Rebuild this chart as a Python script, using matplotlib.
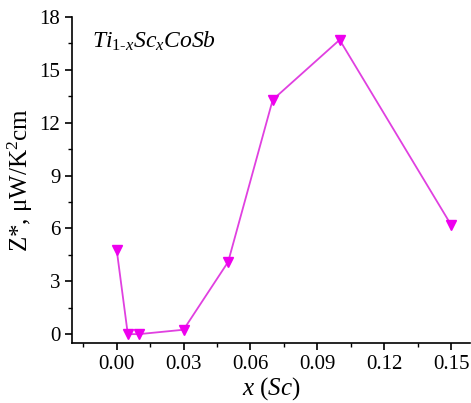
import matplotlib
matplotlib.use('Agg')
import matplotlib.pyplot as plt
from matplotlib.ticker import MultipleLocator

# Data
x_sc = [0.0, 0.005, 0.01, 0.03, 0.05, 0.07, 0.10, 0.15]
z_star = [4.8, 0.0, 0.0, 0.25, 4.1, 13.3, 16.7, 6.2]

plt.rcParams['font.family'] = 'Liberation Serif'
plt.rcParams['mathtext.fontset'] = 'custom'
plt.rcParams['mathtext.rm'] = 'Liberation Serif'
plt.rcParams['mathtext.it'] = 'Liberation Serif:italic'

fig = plt.figure(figsize=(4.71, 4.03), dpi=100)
ax = fig.add_axes([0.153, 0.149, 0.845, 0.809])

ax.plot(x_sc, z_star, color='#e040e0', lw=1.3, marker='v', ms=6.5,
        mfc='#ee00ee', mec='#ee00ee')

ax.set_xlim(-0.02, 0.1585)
ax.set_ylim(-0.5, 18)
ax.xaxis.set_major_locator(MultipleLocator(0.03))
ax.xaxis.set_minor_locator(MultipleLocator(0.015))
ax.yaxis.set_major_locator(MultipleLocator(3))
ax.yaxis.set_minor_locator(MultipleLocator(1.5))
ax.xaxis.set_major_formatter(plt.FuncFormatter(lambda v, p: f'{v:.2f}'))

for s in ['top', 'right']:
    ax.spines[s].set_visible(False)
for s in ['left', 'bottom']:
    ax.spines[s].set_linewidth(1.2)
ax.tick_params(which='major', direction='out', length=5, width=1.2, labelsize=15)
ax.tick_params(which='minor', direction='out', length=3, width=1.0)

ax.set_xlabel(r'$x$ ($Sc$)', fontsize=18, labelpad=1)
ax.set_ylabel('Z*, μW/K$^{2}$cm', fontsize=18, labelpad=3)

ax.text(0.05, 0.96, r'$Ti_{1\text{-}x}Sc_{x}CoSb$', transform=ax.transAxes,
        fontsize=17, va='top', ha='left')

fig.savefig('out.png', dpi=100)
